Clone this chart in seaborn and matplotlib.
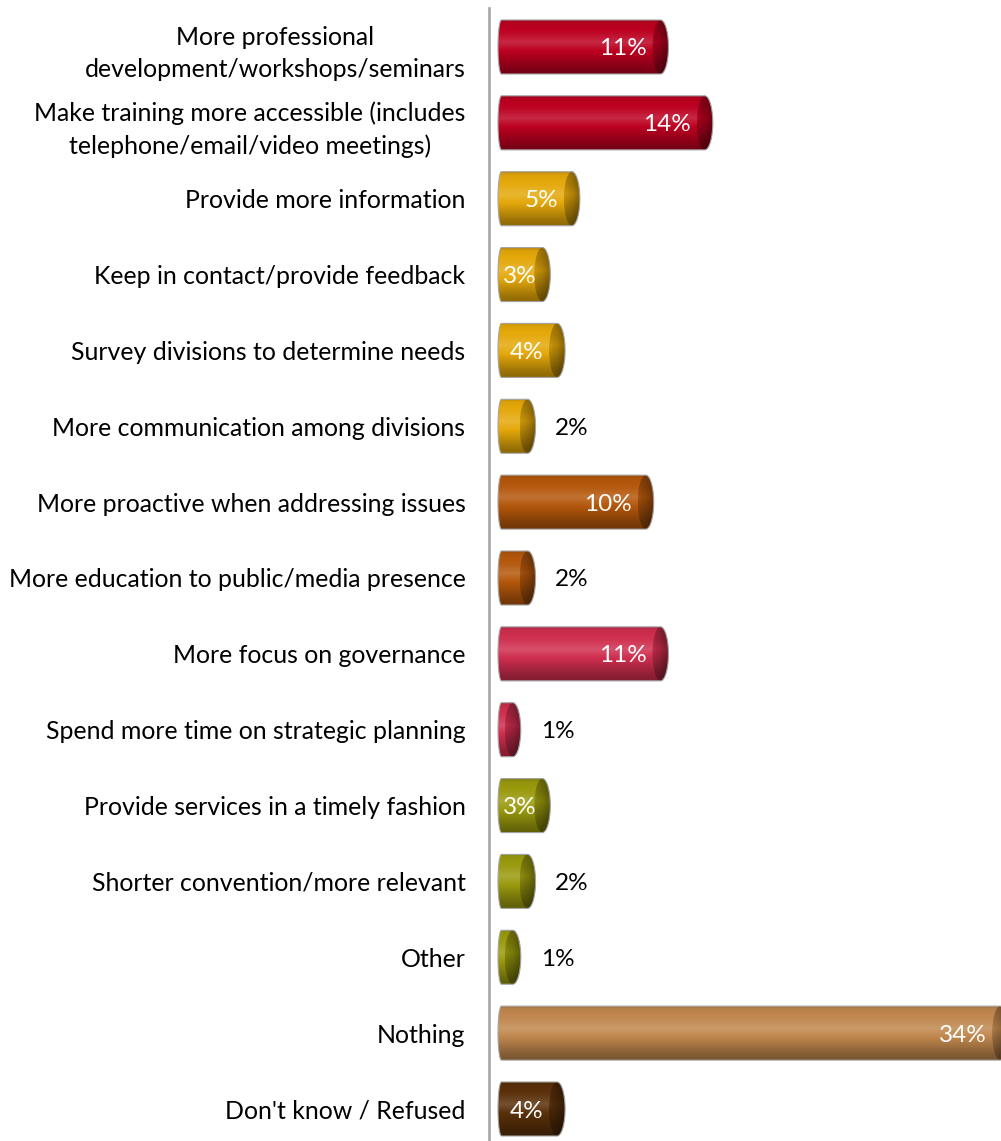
import numpy as np
import pandas as pd
import matplotlib
matplotlib.use("Agg")
import matplotlib.pyplot as plt
import seaborn as sns
from matplotlib.path import Path
from matplotlib.patches import PathPatch, Ellipse
from matplotlib.colors import to_rgb

# ---- data -------------------------------------------------------------
categories = [
    "More professional\ndevelopment/workshops/seminars",
    "Make training more accessible (includes\ntelephone/email/video meetings)",
    "Provide more information",
    "Keep in contact/provide feedback",
    "Survey divisions to determine needs",
    "More communication among divisions",
    "More proactive when addressing issues",
    "More education to public/media presence",
    "More focus on governance",
    "Spend more time on strategic planning",
    "Provide services in a timely fashion",
    "Shorter convention/more relevant",
    "Other",
    "Nothing",
    "Don't know / Refused",
]
values = [11, 14, 5, 3, 4, 2, 10, 2, 11, 1, 3, 2, 1, 34, 4]
bar_colors = [
    "#bc0020", "#bc0020",
    "#e4a80a", "#e4a80a", "#e4a80a", "#e4a80a",
    "#b4570c", "#b4570c",
    "#cf2e4e", "#cf2e4e",
    "#9a9a0e", "#9a9a0e", "#9a9a0e",
    "#c0874e",
    "#5a300a",
]

# ---- style ------------------------------------------------------------
sns.set_theme(style="white")
plt.rcParams["font.family"] = ["Lato", "DejaVu Sans"]
FS = 17.9       # category labels
FS_VAL = 17.5   # value labels

W, H, DPI = 1001, 1141, 100
fig = plt.figure(figsize=(W / DPI, H / DPI), dpi=DPI)
ax_left = 489 / W
ax_top = 8
ax = fig.add_axes([ax_left, 0, 1 - ax_left, (H - ax_top) / H])

df = pd.DataFrame({"item": categories, "pct": values})
sns.barplot(data=df, x="pct", y="item", hue="item", palette=bar_colors,
            orient="h", width=0.712, saturation=1, legend=False, ax=ax,
            linewidth=0)

# scale: pixels per percentage point
PX = 14.77
x0_lim = -9 / PX
ax.set_xlim(x0_lim, x0_lim + (W - 489) / PX)
ax.set_ylim(14 + 32 / 75.86, -39 / 75.86)

def shade(base, f):
    base = np.asarray(base)
    f = np.asarray(f)[..., None]
    dark = base * f
    light = base + (1 - base) * (f - 1)
    return np.clip(np.where(f < 1, dark, light), 0, 1)

t_pts = [0.0, 0.06, 0.25, 0.42, 0.52, 0.70, 0.88, 1.0]
f_pts = [0.78, 0.95, 1.03, 1.16, 1.06, 0.88, 0.70, 0.62]
tt = np.linspace(0, 1, 120)
profile = np.interp(tt, t_pts, f_pts)

cap_rx = 8 / PX        # half width of the end face (data units)
left_rx = 3.5 / PX     # rounding of the start of each bar

for patch in list(ax.patches):
    x0 = patch.get_x()
    w = patch.get_width()
    y0 = patch.get_y()
    h = patch.get_height()
    yc = y0 + h / 2
    idx = int(round(yc))
    base = np.array(to_rgb(bar_colors[idx]))

    # silhouette: rounded start + body + half of the end face
    th1 = np.linspace(np.pi / 2, 3 * np.pi / 2, 40)
    th2 = np.linspace(-np.pi / 2, np.pi / 2, 40)
    xs = np.concatenate([x0 + left_rx + left_rx * np.cos(th1),
                         x0 + w + cap_rx * np.cos(th2)])
    ys = np.concatenate([yc - (h / 2) * np.sin(th1),
                         yc - (h / 2) * np.sin(th2)])
    verts = np.column_stack([xs, ys])
    verts = np.vstack([verts, verts[:1]])
    codes = [Path.MOVETO] + [Path.LINETO] * (len(verts) - 2) + [Path.CLOSEPOLY]
    body = PathPatch(Path(verts, codes), transform=ax.transData,
                     facecolor="none", edgecolor="#a4a4a4", lw=0.8,
                     zorder=4)
    ax.add_patch(body)
    patch.set_visible(False)

    img = shade(base, profile)[:, None, :].repeat(2, axis=1)
    im = ax.imshow(img, extent=(x0, x0 + w + cap_rx, yc + h / 2, yc - h / 2),
                   aspect="auto", interpolation="bilinear", zorder=2)
    im.set_clip_path(body)

    # end face of the cylinder
    face = Ellipse((x0 + w, yc), 2 * cap_rx, h, transform=ax.transData,
                   facecolor="none", edgecolor="none", zorder=3)
    ax.add_patch(face)
    hx = np.linspace(0, 1, 30)
    hfac = np.interp(hx, [0, 0.5, 1], [0.92, 0.8, 0.62])
    fimg = shade(base * 0.85, profile[:, None] * hfac[None, :])
    fim = ax.imshow(fimg, extent=(x0 + w - cap_rx, x0 + w + cap_rx,
                                  yc + h / 2, yc - h / 2),
                    aspect="auto", interpolation="bilinear", zorder=3)
    fim.set_clip_path(face)

ax.set_xlim(x0_lim, x0_lim + (W - 489) / PX)
ax.set_ylim(14 + 32 / 75.86, -39 / 75.86)

# ---- axes styling -----------------------------------------------------
for s in ["top", "right", "bottom"]:
    ax.spines[s].set_visible(False)
ax.spines["left"].set_color("#a6a6a6")
ax.spines["left"].set_linewidth(1.9)
ax.set_xticks([])
ax.set_xlabel("")
ax.set_ylabel("")
ax.set_yticks(range(len(categories)))
ax.set_yticklabels(categories)
ax.tick_params(axis="y", length=0, pad=17, labelsize=FS, labelcolor="black")
for lbl in ax.get_yticklabels():
    lbl.set_multialignment("center")
    lbl.set_linespacing(1.5)

# ---- value labels -----------------------------------------------------
fig.canvas.draw()
renderer = fig.canvas.get_renderer()
for i, v in enumerate(values):
    if v >= 3:
        t = ax.annotate(f"{v}%", xy=(v, i), xytext=(-10, 0),
                        textcoords="offset points", ha="right",
                        va="center_baseline", color="white", fontsize=FS_VAL,
                        zorder=6)
        bb = t.get_window_extent(renderer)
        start_px = ax.transData.transform((0, i))[0]
        if bb.x0 < start_px + 5:
            dx = (start_px + 5 - bb.x0) * 72 / DPI
            t.xyann = (-10 + dx, 0)
    else:
        ax.annotate(f"{v}%", xy=(v, i), xytext=(20, 0),
                    textcoords="offset points", ha="left",
                    va="center_baseline", color="black", fontsize=FS_VAL,
                    zorder=6)

fig.savefig("out.png", dpi=DPI)
